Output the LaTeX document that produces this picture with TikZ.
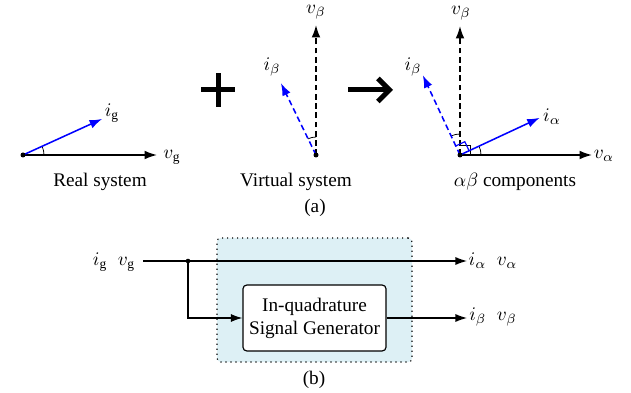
\documentclass[tikz,border=0pt]{standalone}
\usepackage{amsmath}
\usepackage{fontspec}
\setmainfont{Liberation Serif}
\usepackage{tikz}
\usetikzlibrary{arrows.meta,calc}

\definecolor{boxfill}{RGB}{221,240,245}

\begin{document}
\begin{tikzpicture}[x=0.52pt,y=0.52pt,
    vec/.style={thick,-{Latex[length=6.5pt,width=4.6pt]}},
    dvec/.style={vec,dash pattern=on 3pt off 1.8pt},
    sig/.style={semithick,-{Latex[length=6pt,width=4.2pt]}},
    ang/.style={thin},
    txt/.style={inner sep=0pt},
    gen/.style={draw,semithick,fill=white,rounded corners=2pt,
      minimum width=74.4pt,minimum height=34.3pt,align=center,inner sep=0pt}]
  \useasboundingbox (0,0) rectangle (631,393);

  % (a) real system
  \coordinate (o1) at (23,238);
  \coordinate (v1) at (157,238);
  \coordinate (i1) at ($(o1)+(24.5:87)$);
  \draw[ang] ($(o1)+(0:21)$) arc (0:24.5:21);
  \draw[vec] (o1) -- (v1);
  \draw[vec,blue] (o1) -- (i1);
  \fill (o1) circle [radius=2.5];
  \node[txt] (lv1) at (172,236) {$v_{\mathrm{g}}$};
  \node[txt] (li1) at (112,280) {$i_{\mathrm{g}}$};
  \node[txt] (t1) at (100,211) {Real system};

  % plus and arrow
  \draw[line width=2.6pt] (201,303) -- (235,303) (218,286) -- (218,320);
  \draw[line width=2.6pt,-{Straight Barb[length=6pt,width=12pt]}] (348,303) -- (393,303);

  % (a) virtual system
  \coordinate (o2) at (316,238);
  \coordinate (vb2) at ($(o2)+(0,130)$);
  \coordinate (ib2) at ($(o2)+(116:80)$);
  \draw[ang] ($(o2)+(90:18)$) arc (90:116:18);
  \draw[dvec] (o2) -- (vb2);
  \draw[dvec,blue] (o2) -- (ib2);
  \fill (o2) circle [radius=2.5];
  \node[txt] (lvb2) at (316,381) {$v_{\beta}$};
  \node[txt] (lib2) at (272,326) {$i_{\beta}$};
  \node[txt] (t2) at (296,211) {Virtual system};

  % (a) alpha-beta components
  \coordinate (o3) at (460,238);
  \coordinate (va3) at (592,238);
  \coordinate (vb3) at ($(o3)+(0,129)$);
  \coordinate (ia3) at ($(o3)+(25:88)$);
  \coordinate (ib3) at ($(o3)+(115:88)$);
  \draw[ang] ($(o3)+(0:21)$) arc (0:25:21);
  \draw[ang] ($(o3)+(90:21)$) arc (90:115:21);
  \draw[ang] ($(o3)+(10,0)$) -- ++(0,10) -- ++(-10,0);
  \draw[vec] (o3) -- (va3);
  \draw[dvec] (o3) -- (vb3);
  \draw[vec,blue] (o3) -- (ia3);
  \draw[dvec,blue] (o3) -- (ib3);
  \draw[blue,semithick] ($(o3)+(25:10)$) -- ($(o3)+(25:10)+(115:10)$) -- ($(o3)+(115:10)$);
  \fill (o3) circle [radius=2.5];
  \node[txt] (lva3) at (604,237) {$v_{\alpha}$};
  \node[txt] (lvb3) at (461,380) {$v_{\beta}$};
  \node[txt] (lia3) at (552,276) {$i_{\alpha}$};
  \node[txt] (lib3) at (413,326) {$i_{\beta}$};
  \node[txt] (t3) at (515,211) {$\alpha\beta$ components};
  \node[txt] (ta) at (315,185) {(a)};

  % (b) block diagram
  \node[draw,dotted,semithick,fill=boxfill,rounded corners=2pt,
    minimum width=101.4pt,minimum height=64.5pt] (qsg) at (314.5,93) {};
  \node[gen] (gen) at (314.5,75) {In-quadrature\\Signal Generator};
  \coordinate (in) at (143,132);
  \coordinate (jn) at (188,132);
  \coordinate (outa) at (467,132);
  \coordinate (outb) at (467,75);
  \draw[sig] (in) -- (outa);
  \draw[sig] (jn) |- (gen.west);
  \draw[sig] (gen.east) -- (outb);
  \fill (jn) circle [radius=2.3];
  \node[txt] (lin) at (114,131) {$i_{\mathrm{g}}\;\;v_{\mathrm{g}}$};
  \node[txt] (lout1) at (493,132) {$i_{\alpha}\;\;v_{\alpha}$};
  \node[txt] (lout2) at (493,76) {$i_{\beta}\;\;v_{\beta}$};
  \node[txt] (tb) at (314,13) {(b)};
\end{tikzpicture}
\end{document}
